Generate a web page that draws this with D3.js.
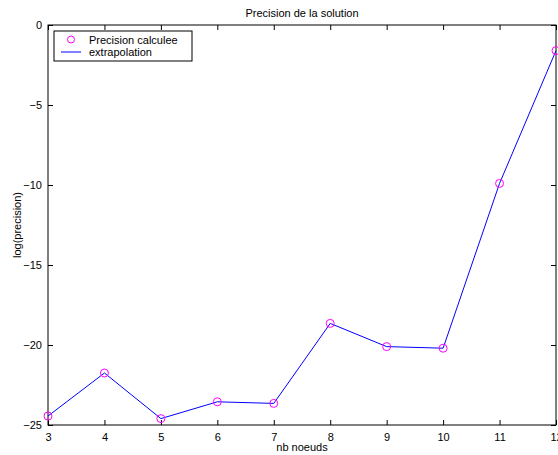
<!DOCTYPE html>
<html><head><meta charset="utf-8">
<script src="https://cdn.jsdelivr.net/npm/d3@7"></script>
<style>body{margin:0;background:#fff}svg{display:block}text{font-family:"Liberation Sans",Arial,Helvetica,sans-serif}</style>
</head><body>
<script>
const nodes = [3,4,5,6,7,8,9,10,11,12];
const precision = [-24.44,-21.75,-24.6,-23.55,-23.65,-18.65,-20.1,-20.2,-9.9,-1.6];
const xTicks = [3,4,5,6,7,8,9,10,11,12];
const yTicks = [0,-5,-10,-15,-20,-25];
const yTickLabels = ["0","\u22125","\u221210","\u221215","\u221220","\u221225"];
const titleText = "Precision de la solution";
const xLabel = "nb noeuds";
const yLabel = "log(precision)";
const legendLabels = ["Precision calculee","extrapolation"];

const W=558,H=455, L=48, R=556, T=25, B=425;
const svg=d3.select("body").append("svg").attr("width",W).attr("height",H);
const x=d3.scaleLinear().domain([3,12]).range([L,R]);
const y=d3.scaleLinear().domain([-25,0]).range([B,T]);
const tl=5;

const g=svg.append("g");
// frame
g.append("rect").attr("x",L).attr("y",T).attr("width",R-L).attr("height",B-T)
 .attr("fill","none").attr("stroke","#000").attr("stroke-width",1);

// ticks
const xa=d3.axisBottom(x).tickValues(xTicks).tickSize(-tl).tickPadding(8).tickFormat(d3.format("d"));
const xt=d3.axisTop(x).tickValues(xTicks).tickSize(-tl).tickFormat("");
const ya=d3.axisLeft(y).tickValues(yTicks).tickSize(-tl).tickPadding(6).tickFormat((d,i)=>yTickLabels[i]);
const yr=d3.axisRight(y).tickValues(yTicks).tickSize(-tl).tickFormat("");
function style(sel){sel.select(".domain").remove();sel.selectAll("line").attr("stroke","#000");sel.selectAll("text").attr("font-size",11).attr("fill","#000").style("font-family","'Liberation Sans',Arial,sans-serif");}
g.append("g").attr("transform",`translate(0,${B})`).call(xa).call(style);
g.append("g").attr("transform",`translate(0,${T})`).call(xt).call(style);
g.append("g").attr("transform",`translate(${L},0)`).call(ya).call(style);
g.append("g").attr("transform",`translate(${R},0)`).call(yr).call(style);

const data=nodes.map((n,i)=>({n,v:precision[i]}));
g.append("path").datum(data).attr("fill","none").attr("stroke","#0000ff").attr("stroke-width",1)
 .attr("d",d3.line().x(d=>x(d.n)).y(d=>y(d.v)));
g.selectAll("circle.pt").data(data).join("circle").attr("class","pt")
 .attr("cx",d=>x(d.n)).attr("cy",d=>y(d.v)).attr("r",4)
 .attr("fill","none").attr("stroke","#ff00ff").attr("stroke-width",1);

// labels
svg.append("text").attr("x",(L+R)/2).attr("y",17).attr("text-anchor","middle").attr("font-size",11).text(titleText);
svg.append("text").attr("x",(L+R)/2).attr("y",451).attr("text-anchor","middle").attr("font-size",11).text(xLabel);
svg.append("text").attr("transform",`translate(21,${(T+B)/2}) rotate(-90)`).attr("text-anchor","middle").attr("font-size",11).text(yLabel);

// legend
const lg=svg.append("g");
lg.append("rect").attr("x",54).attr("y",31).attr("width",138).attr("height",30).attr("fill","#fff").attr("stroke","#000").attr("stroke-width",1);
lg.append("circle").attr("cx",71).attr("cy",39.5).attr("r",3.5).attr("fill","none").attr("stroke","#ff00ff");
lg.append("line").attr("x1",61).attr("x2",81).attr("y1",52).attr("y2",52).attr("stroke","#0000ff");
lg.append("text").attr("x",89).attr("y",43.5).attr("font-size",11).text(legendLabels[0]);
lg.append("text").attr("x",89).attr("y",56).attr("font-size",11).text(legendLabels[1]);
</script>
</body></html>
